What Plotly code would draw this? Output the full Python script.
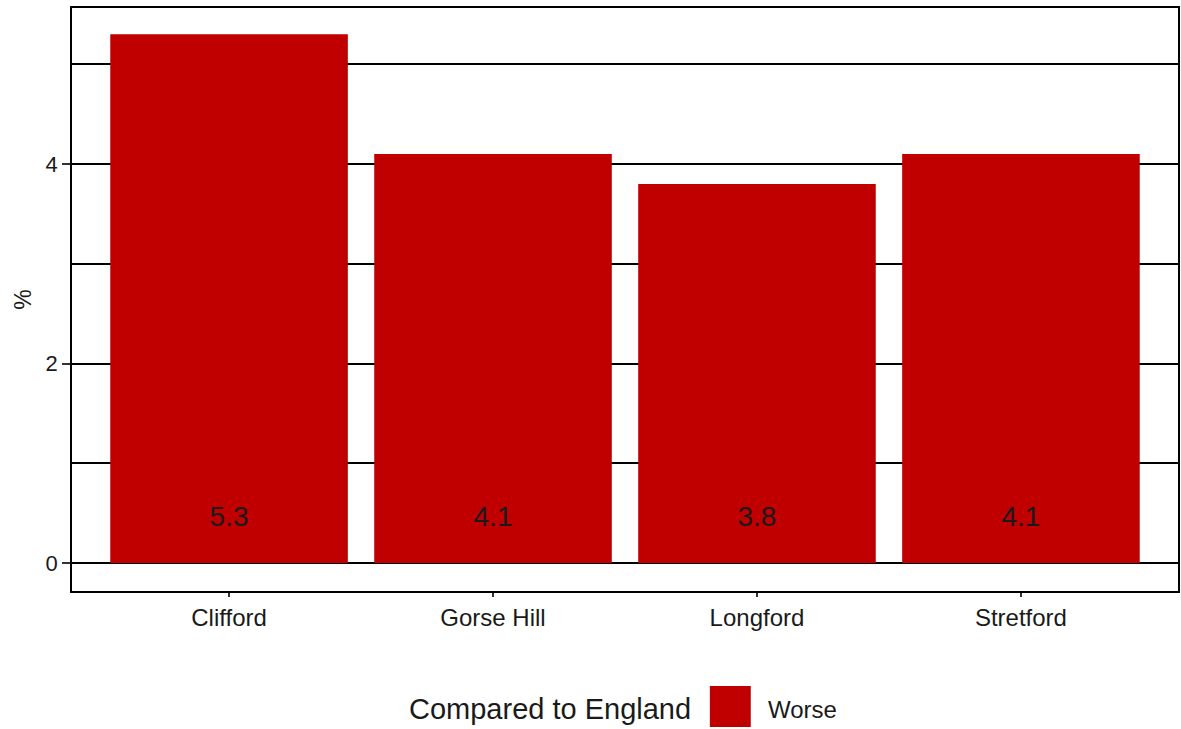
import plotly.graph_objects as go

wards = ["Clifford", "Gorse Hill", "Longford", "Stretford"]
values = [5.3, 4.1, 3.8, 4.1]
labels = ["5.3", "4.1", "3.8", "4.1"]
legend_title = "Compared to England"
legend_item = "Worse"
bar_color = "#C00000"

W, H = 1181, 729
L, R, T, B = 72, 1, 8, 138
pw, ph = W - L - R, H - T - B

def px(x):
    return (x - L) / pw

def py(y):
    return (H - B - y) / ph

FONT = "Liberation Sans, Arial"
TXT = "#1a1a1a"

fig = go.Figure()
fig.add_trace(go.Bar(x=wards, y=values, width=0.9, marker=dict(color=bar_color, line=dict(width=0)),
                     showlegend=False, hoverinfo="x+y"))
fig.add_trace(go.Scatter(x=wards, y=[0.44] * len(wards), mode="text", text=labels,
                         textfont=dict(family=FONT, size=28, color=TXT),
                         showlegend=False, hoverinfo="skip"))

fig.update_layout(
    width=W, height=H, autosize=False,
    margin=dict(l=L, r=R, t=T, b=B),
    paper_bgcolor="white", plot_bgcolor="white",
    font=dict(family=FONT, color=TXT),
    showlegend=False,
    xaxis=dict(range=[-0.595, 3.595], showline=True, linecolor="black", linewidth=1.5, mirror=True,
               ticks="outside", ticklen=4, tickcolor="#333", tickwidth=1.5,
               tickfont=dict(size=24, color=TXT), showgrid=False),
    yaxis=dict(range=[-0.28, 5.564], showline=True, linecolor="black", linewidth=1.5, mirror=True,
               tickvals=[0, 2, 4], ticktext=["0", "2", "4"],
               ticks="outside", ticklen=8, tickcolor="#333", tickwidth=1.5,
               tickfont=dict(size=22, color=TXT),
               showgrid=True, gridcolor="black", gridwidth=1.5,
               zeroline=True, zerolinecolor="black", zerolinewidth=1.5,
               minor=dict(tickvals=[1, 3, 5], showgrid=True, gridcolor="black", gridwidth=1.5, ticks=""),
               title=dict(text="%", font=dict(size=23, color=TXT), standoff=8)),
)

# legend drawn manually (large ggplot-style swatch)
fig.add_shape(type="rect", xref="paper", yref="paper",
              x0=px(711), x1=px(752), y0=py(727), y1=py(686),
              fillcolor=bar_color, line=dict(width=0))
fig.add_annotation(xref="paper", yref="paper", x=px(694), y=py(709), text=legend_title,
                   showarrow=False, xanchor="right", yanchor="middle",
                   font=dict(size=29, color=TXT))
fig.add_annotation(xref="paper", yref="paper", x=px(767), y=py(709), text=legend_item,
                   showarrow=False, xanchor="left", yanchor="middle",
                   font=dict(size=24, color=TXT))

post = ("document.body.style.margin='0';document.body.style.padding='0';"
        "document.body.style.overflow='hidden';"
        "var gd=document.getElementById('{plot_id}');"
        "Plotly.relayout(gd,{width:1181,height:729});")

fig.write_html("out.html", config={"responsive": False, "displayModeBar": False}, post_script=post)
